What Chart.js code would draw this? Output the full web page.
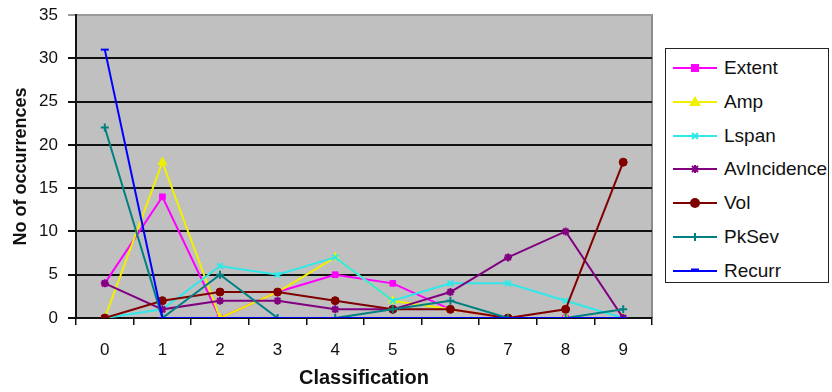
<!DOCTYPE html>
<html>
<head>
<meta charset="utf-8">
<script src="https://cdn.jsdelivr.net/npm/chart.js@4.4.1/dist/chart.umd.min.js"></script>
<style>
  html, body { margin: 0; padding: 0; background: #fff; }
  #wrap { position: relative; width: 832px; height: 392px; }
  #chart { position: absolute; left: 0; top: 0; }
  #legend {
    position: absolute; left: 665px; top: 48px; width: 162px; height: 233px;
    border: 1px solid #222; background: #fff;
    font-family: "Liberation Sans", Arial, sans-serif; font-size: 19px; color: #111;
  }
  .item { position: absolute; left: 7px; height: 20px; display: flex; align-items: center; }
  .item svg { width: 44px; height: 20px; margin-right: 7px; }
</style>
</head>
<body>
<div id="wrap">
  <canvas id="chart" width="832" height="392"></canvas>
  <div id="legend"></div>
</div>
<script>
const categories = ['0', '1', '2', '3', '4', '5', '6', '7', '8', '9'];
const yTicks = [0, 5, 10, 15, 20, 25, 30, 35];

const seriesNames = ['Extent', 'Amp', 'Lspan', 'AvIncidence', 'Vol', 'PkSev', 'Recurr'];
const extent      = [4, 14, 0, 3, 5, 4, 1, 0, 0, 0];
const amp         = [0, 18, 0, 3, 7, 2, 1, 0, 0, 0];
const lspan       = [0, 1, 6, 5, 7, 2, 4, 4, 2, 0];
const avIncidence = [4, 1, 2, 2, 1, 1, 3, 7, 10, 0];
const vol         = [0, 2, 3, 3, 2, 1, 1, 0, 1, 18];
const pkSev       = [22, 0, 5, 0, 0, 1, 2, 0, 0, 1];
const recurr      = [31, 0, 0, 0, 0, 0, 0, 0, 0, 0];

const seriesData = [extent, amp, lspan, avIncidence, vol, pkSev, recurr];
const colors = ['#ff00ff', '#f0f000', '#30e8e8', '#800080', '#800000', '#008080', '#0000ff'];
const markers = ['rect', 'triangle', 'crossRot', 'star', 'circle', 'cross', 'line'];
const markerSizes = [4, 5, 4, 4, 4, 4, 4];

const plotBg = {
  id: 'plotBg',
  beforeDraw(chart) {
    const { ctx, chartArea: a } = chart;
    ctx.save();
    ctx.fillStyle = '#c0c0c0';
    ctx.fillRect(a.left, a.top, a.right - a.left, a.bottom - a.top);
    ctx.strokeStyle = '#8c8c8c';
    ctx.lineWidth = 2;
    ctx.beginPath();
    ctx.moveTo(a.left, a.top);
    ctx.lineTo(a.right, a.top);
    ctx.lineTo(a.right, a.bottom);
    ctx.stroke();
    ctx.restore();
  },
};

const datasets = seriesNames.map((name, i) => ({
  label: name,
  data: seriesData[i],
  borderColor: colors[i],
  backgroundColor: colors[i],
  borderWidth: 2,
  pointStyle: markers[i],
  pointRadius: markerSizes[i],
  pointBorderWidth: i === 2 || i === 3 || i === 5 || i === 6 ? 2 : 1,
  tension: 0,
  order: seriesNames.length - i,
}));

new Chart(document.getElementById('chart'), {
  type: 'line',
  data: { labels: categories, datasets },
  plugins: [plotBg],
  options: {
    responsive: false,
    animation: false,
    layout: { padding: { top: 15, right: 180, left: 0, bottom: 0 } },
    plugins: { legend: { display: false }, tooltip: { enabled: false } },
    scales: {
      x: {
        offset: true,
        grid: {
          offset: true,
          drawOnChartArea: false,
          color: '#111',
          lineWidth: 1.5,
          tickLength: 7,
        },
        border: { color: '#111', width: 2 },
        ticks: {
          color: '#111',
          padding: 15,
          font: { family: 'Liberation Sans', size: 17 },
        },
        title: {
          display: true,
          text: 'Classification',
          color: '#111',
          font: { family: 'Liberation Sans', size: 20, weight: 'bold' },
          padding: { top: 2, bottom: 2 },
        },
        afterFit(scale) { scale.height = 74; },
      },
      y: {
        min: 0,
        max: 35,
        afterBuildTicks(scale) { scale.ticks = yTicks.map((v) => ({ value: v })); },
        grid: {
          color: (c) => (c.tick && c.tick.value === 35 ? '#9a9a9a' : '#111'),
          lineWidth: 2,
          tickLength: 8,
        },
        border: { color: '#111', width: 2 },
        ticks: {
          color: '#111',
          padding: 10,
          font: { family: 'Liberation Sans', size: 17 },
        },
        title: {
          display: true,
          text: 'No of occurrences',
          color: '#111',
          font: { family: 'Liberation Sans', size: 18, weight: 'bold' },
          padding: { top: 10, bottom: 0 },
        },
        afterFit(scale) {
          scale.width = 76;
          scale.paddingTop = 9;
        },
      },
    },
  },
});

// legend: line + marker, built from the same series arrays
function markerSvg(i) {
  const c = colors[i];
  const cx = 22, cy = 10;
  let m = '';
  switch (markers[i]) {
    case 'rect': m = `<rect x="${cx - 4}" y="${cy - 4}" width="8" height="8" fill="${c}"/>`; break;
    case 'triangle': m = `<polygon points="${cx},${cy - 6} ${cx + 6},${cy + 4} ${cx - 6},${cy + 4}" fill="${c}"/>`; break;
    case 'crossRot': m = `<path d="M${cx - 3} ${cy - 3}L${cx + 3} ${cy + 3}M${cx + 3} ${cy - 3}L${cx - 3} ${cy + 3}" stroke="${c}" stroke-width="2"/>`; break;
    case 'star': m = `<path d="M${cx - 3} ${cy - 3}L${cx + 3} ${cy + 3}M${cx + 3} ${cy - 3}L${cx - 3} ${cy + 3}M${cx} ${cy - 4}L${cx} ${cy + 4}" stroke="${c}" stroke-width="2"/>`; break;
    case 'circle': m = `<circle cx="${cx}" cy="${cy}" r="5" fill="${c}"/>`; break;
    case 'cross': m = `<path d="M${cx} ${cy - 4}L${cx} ${cy + 4}" stroke="${c}" stroke-width="2"/>`; break;
    case 'line': m = `<path d="M${cx - 4} ${cy - 1}L${cx + 4} ${cy - 1}" stroke="${c}" stroke-width="3"/>`; break;
  }
  return `<svg viewBox="0 0 44 20"><line x1="0" y1="${cy}" x2="44" y2="${cy}" stroke="${c}" stroke-width="2"/>${m}</svg>`;
}

const legendEl = document.getElementById('legend');
legendEl.innerHTML = seriesNames.map((name, i) => `
  <div class="item" style="top:${9 + i * 33.8}px">${markerSvg(i)}<span>${name}</span></div>
`).join('');
</script>
</body>
</html>
